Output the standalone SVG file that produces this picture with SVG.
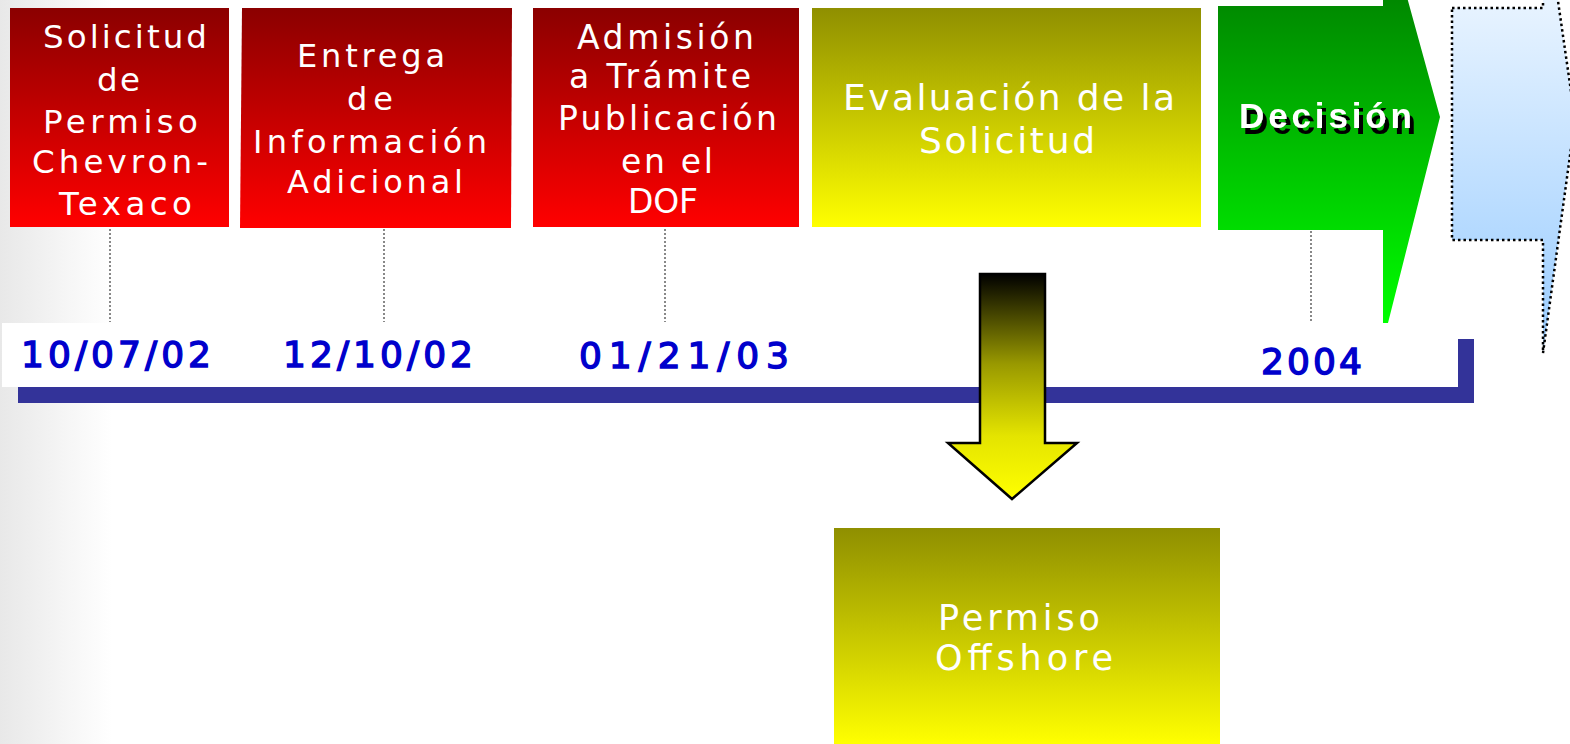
<svg xmlns="http://www.w3.org/2000/svg" width="1570" height="744" viewBox="0 0 1570 744">
  <defs>
    <linearGradient id="bgLeft" x1="0" y1="0" x2="1" y2="0">
      <stop offset="0" stop-color="#e8e8e8"/>
      <stop offset="1" stop-color="#ffffff"/>
    </linearGradient>
    <linearGradient id="gRed" x1="0" y1="0" x2="0" y2="1">
      <stop offset="0" stop-color="#8b0000"/>
      <stop offset="1" stop-color="#ff0000"/>
    </linearGradient>
    <linearGradient id="gOlive" x1="0" y1="0" x2="0" y2="1">
      <stop offset="0" stop-color="#8f8f00"/>
      <stop offset="1" stop-color="#ffff00"/>
    </linearGradient>
    <linearGradient id="gGreen" gradientUnits="userSpaceOnUse" x1="0" y1="-90" x2="0" y2="324">
      <stop offset="0" stop-color="#006800"/>
      <stop offset="1" stop-color="#00ff00"/>
    </linearGradient>
    <linearGradient id="gBlue" gradientUnits="userSpaceOnUse" x1="0" y1="-103" x2="0" y2="353">
      <stop offset="0" stop-color="#ffffff"/>
      <stop offset="1" stop-color="#99ccff"/>
    </linearGradient>
    <linearGradient id="gDown" gradientUnits="userSpaceOnUse" x1="0" y1="274" x2="0" y2="499">
      <stop offset="0" stop-color="#000000"/>
      <stop offset="0.4" stop-color="#999900"/>
      <stop offset="0.72" stop-color="#e4e400"/>
      <stop offset="1" stop-color="#ffff00"/>
    </linearGradient>
    <filter id="shadow" x="-10%" y="-20%" width="130%" height="160%">
      <feOffset in="SourceAlpha" dx="4" dy="6" result="off"/>
      <feMerge>
        <feMergeNode in="off"/>
        <feMergeNode in="SourceGraphic"/>
      </feMerge>
    </filter>
    <style>
      .box { font-family: "DejaVu Sans", Verdana, sans-serif; fill: #ffffff; }
      .date { font-family: "DejaVu Sans", Verdana, sans-serif; font-size: 36px; fill: #0000cc; stroke: #0000cc; stroke-width: 1.4px; }
      .tick { stroke: #888888; stroke-width: 2; stroke-dasharray: 2 2; fill: none; }
    </style>
  </defs>

  <!-- background -->
  <rect x="0" y="0" width="1570" height="744" fill="#ffffff"/>
  <rect x="0" y="0" width="112" height="744" fill="url(#bgLeft)"/>
  <rect x="2" y="323" width="1456" height="64" fill="#ffffff"/>

  <!-- timeline bar -->
  <g id="timeline">
    <path d="M18,387 H1458 V339 H1474 V403 H18 Z" fill="#333399"/>
  </g>

  <!-- connectors (dotted ticks) -->
  <g id="connectors">
    <line class="tick" x1="110" y1="229" x2="110" y2="322"/>
    <line class="tick" x1="384" y1="229" x2="384" y2="322"/>
    <line class="tick" x1="665" y1="229" x2="665" y2="322"/>
    <line class="tick" x1="1311" y1="231" x2="1311" y2="322"/>
  </g>

  <g id="node-solicitud">
    <rect x="10" y="8" width="219" height="219" fill="url(#gRed)"/>
    <g class="box" font-size="32.5">
      <text x="43" y="48" textLength="164" lengthAdjust="spacing">Solicitud</text>
      <text x="97" y="91" textLength="43" lengthAdjust="spacing">de</text>
      <text x="43" y="133" textLength="155" lengthAdjust="spacing">Permiso</text>
      <text x="32" y="173" textLength="176" lengthAdjust="spacing">Chevron-</text>
      <text x="59" y="215" textLength="133" lengthAdjust="spacing">Texaco</text>
    </g>
  </g>

  <g id="node-entrega">
    <polygon points="242,8 512,8 511,228 240,228" fill="url(#gRed)"/>
    <g class="box" font-size="32">
      <text x="297" y="67" textLength="148" lengthAdjust="spacing">Entrega</text>
      <text x="347" y="110" textLength="46" lengthAdjust="spacing">de</text>
      <text x="253" y="153" textLength="234" lengthAdjust="spacing">Información</text>
      <text x="287" y="193" textLength="176" lengthAdjust="spacing">Adicional</text>
    </g>
  </g>

  <g id="node-admision">
    <rect x="533" y="8" width="266" height="219" fill="url(#gRed)"/>
    <g class="box" font-size="33">
      <text x="577" y="49" textLength="177" lengthAdjust="spacing">Admisión</text>
      <text x="569" y="88" textLength="182" lengthAdjust="spacing">a Trámite</text>
      <text x="558" y="130" textLength="219" lengthAdjust="spacing">Publicación</text>
      <text x="621" y="173" textLength="92" lengthAdjust="spacing">en el</text>
      <text x="628" y="213" textLength="70" lengthAdjust="spacing">DOF</text>
    </g>
  </g>

  <g id="node-evaluacion">
    <rect x="812" y="8" width="389" height="219" fill="url(#gOlive)"/>
    <g class="box" font-size="36">
      <text x="843" y="110" textLength="332" lengthAdjust="spacing">Evaluación de la</text>
      <text x="919" y="153" textLength="176" lengthAdjust="spacing">Solicitud</text>
    </g>
  </g>

  <g id="node-decision">
    <polygon points="1218,6 1383,6 1383,-90 1440,117 1388,323 1383,323 1383,230 1218,230" fill="url(#gGreen)"/>
    <text x="1239" y="128" font-family="'Liberation Sans', Arial, sans-serif" font-weight="bold" font-size="35" fill="#ffffff" textLength="173" lengthAdjust="spacing" filter="url(#shadow)">Decisión</text>
  </g>

  <g id="node-next">
    <polygon points="1452,8 1543,8 1543,-103 1575,119 1543,353 1543,240 1452,240" fill="url(#gBlue)" stroke="#000000" stroke-width="2.5" stroke-dasharray="2.5 3"/>
  </g>

  <g id="dates">
    <text class="date" x="21" y="367" textLength="190" lengthAdjust="spacing">10/07/02</text>
    <text class="date" x="283" y="367" textLength="190" lengthAdjust="spacing">12/10/02</text>
    <text class="date" x="579" y="368" textLength="210" lengthAdjust="spacing">01/21/03</text>
    <text class="date" x="1261" y="374" textLength="101" lengthAdjust="spacing">2004</text>
  </g>

  <g id="node-down-arrow">
    <polygon points="980,274 1045,274 1045,443 1077,443 1012,499 948,443 980,443" fill="url(#gDown)" stroke="#000000" stroke-width="2.5" stroke-linejoin="miter"/>
  </g>

  <g id="node-offshore">
    <rect x="834" y="528" width="386" height="216" fill="url(#gOlive)"/>
    <g class="box" font-size="35">
      <text x="938" y="630" textLength="162" lengthAdjust="spacing">Permiso</text>
      <text x="935" y="670" textLength="178" lengthAdjust="spacing">Offshore</text>
    </g>
  </g>
</svg>
